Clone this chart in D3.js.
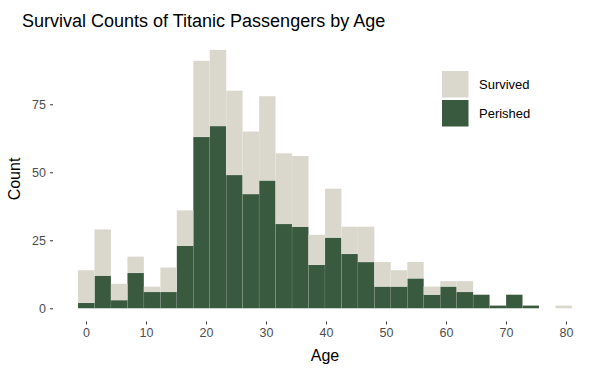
<!DOCTYPE html>
<html>
<head>
<meta charset="utf-8">
<script src="https://cdn.jsdelivr.net/npm/d3@7"></script>
<style>
  html, body { margin: 0; padding: 0; background: #ffffff; }
  svg { display: block; }
</style>
</head>
<body>
<svg id="chart" width="600" height="368"></svg>
<script>
// ---- Data ----
const binStart = -1.33;      // left edge of first bin (years)
const binWidth = 2.744;      // bin width (years)
const perished = [2, 12, 3, 13, 6, 6, 23, 63, 67, 49, 42, 47, 31, 30, 16, 26, 20, 17, 8, 8, 11, 5, 8, 6, 5, 1, 5, 1, 0, 0];
const survived = [12, 17, 6, 6, 2, 9, 13, 28, 28, 31, 23, 31, 26, 26, 11, 18, 10, 13, 9, 6, 6, 3, 2, 4, 0, 0, 0, 0, 0, 1];
const seriesNames = ["Perished", "Survived"];
const legendOrder = ["Survived", "Perished"];
const xTicks = [0, 10, 20, 30, 40, 50, 60, 70, 80];
const yTicks = [0, 25, 50, 75];
const colors = { Survived: "#DAD7CD", Perished: "#3A5A40" };

// ---- Build table ----
const rows = perished.map((p, i) => ({
  x0: binStart + i * binWidth,
  x1: binStart + (i + 1) * binWidth,
  Perished: p,
  Survived: survived[i]
}));

const svg = d3.select("#chart");
const x = d3.scaleLinear().domain([-5.5, 85.17]).range([53, 597]);
const y = d3.scaleLinear().domain([-4.75, 99.75]).range([321.2, 37]);

const stack = d3.stack().keys(seriesNames);
const layers = stack(rows);

const g = svg.append("g");
layers.forEach(layer => {
  g.append("g")
    .selectAll("rect")
    .data(layer.filter(d => d[1] - d[0] > 0))
    .join("rect")
    .attr("x", d => x(d.data.x0))
    .attr("width", d => x(d.data.x1) - x(d.data.x0))
    .attr("y", d => y(d[1]))
    .attr("height", d => y(d[0]) - y(d[1]))
    .attr("fill", colors[layer.key])
    .attr("stroke", "rgba(255,255,255,0.15)")
    .attr("stroke-width", 0.5);
});

// ---- Axes ----
const font = "'Liberation Sans', Arial, sans-serif";
const xAxis = d3.axisBottom(x).tickValues(xTicks).tickSize(3).tickPadding(4).tickFormat(d3.format("d"));
const xg = svg.append("g").attr("transform", "translate(0,321.5)").call(xAxis);
xg.select(".domain").remove();
xg.selectAll("line").attr("stroke", "#333333");
xg.selectAll("text").attr("fill", "#4d4d4d").style("font-family", font).style("font-size", "12.5px");

const yAxis = d3.axisLeft(y).tickValues(yTicks).tickSize(3).tickPadding(4);
const yg = svg.append("g").attr("transform", "translate(53,0)").call(yAxis);
yg.select(".domain").remove();
yg.selectAll("line").attr("stroke", "#333333");
yg.selectAll("text").attr("fill", "#4d4d4d").style("font-family", font).style("font-size", "12.5px");

// ---- Titles ----
svg.append("text")
  .attr("x", 22).attr("y", 27)
  .style("font-family", font).style("font-size", "18px")
  .attr("fill", "#000")
  .text("Survival Counts of Titanic Passengers by Age");

svg.append("text")
  .attr("x", 325).attr("y", 361)
  .attr("text-anchor", "middle")
  .style("font-family", font).style("font-size", "16px")
  .attr("fill", "#000")
  .text("Age");

svg.append("text")
  .attr("transform", "translate(20,179) rotate(-90)")
  .attr("text-anchor", "middle")
  .style("font-family", font).style("font-size", "16px")
  .attr("fill", "#000")
  .text("Count");

// ---- Legend ----
const lg = svg.append("g").attr("transform", "translate(442,71)");
legendOrder.forEach((name, i) => {
  const row = lg.append("g").attr("transform", `translate(0,${i * 29})`);
  row.append("rect").attr("width", 26.5).attr("height", 26.5).attr("fill", colors[name]);
  row.append("text")
    .attr("x", 37).attr("y", 13.5).attr("dy", "0.35em")
    .style("font-family", font).style("font-size", "13px")
    .attr("fill", "#000")
    .text(name);
});
</script>
</body>
</html>
